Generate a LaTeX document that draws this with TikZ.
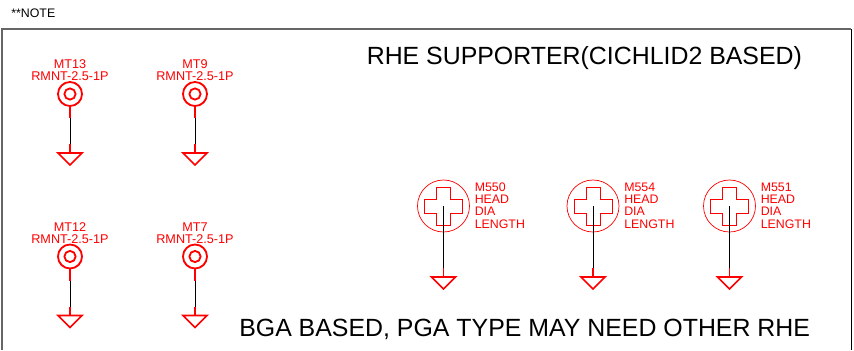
\documentclass[tikz,border=0pt]{standalone}
\usepackage{fontspec}
\setmainfont{Liberation Sans}
\begin{document}
\begin{tikzpicture}[x=0.025cm,y=-0.025cm,
  note/.style={font=\fontsize{8.8pt}{9pt}\selectfont,anchor=west,inner sep=0pt},
  heading/.style={font=\fontsize{17.7pt}{20pt}\selectfont,anchor=west,inner sep=0pt},
  reflabel/.style={red,font=\fontsize{9pt}{8.6pt}\selectfont,align=center,anchor=south,inner sep=0pt},
  headlabel/.style={red,font=\fontsize{8.8pt}{8.8pt}\selectfont,align=left,anchor=west,inner sep=0pt},
  holeouter/.style={circle,draw=red,line width=1.3pt,minimum size=0.6cm,inner sep=0pt},
  holeinner/.style={circle,draw=red,line width=1.3pt,minimum size=0.28cm,inner sep=0pt},
  screwhead/.style={circle,draw=red,line width=0.5pt,minimum size=1.3cm,inner sep=0pt},
  stub/.style={red,line width=1.2pt},
  wire/.style={black,line width=0.6pt}]
\useasboundingbox (0,0) rectangle (854,350);

% Frame, open at the bottom
\draw[black!60,line width=0.9pt] (2,350) -- (2,29) -- (851,29);
\draw[black,line width=0.5pt] (851,29) -- (851,350);

% Texts
\node[note] (notetext) at (11,13.5) {**NOTE};
\node[heading] (titletext) at (366.5,58.5) {RHE SUPPORTER(CICHLID2 BASED)};
\node[heading] (bgatext) at (239,329.5) {BGA BASED, PGA TYPE MAY NEED OTHER RHE};

% Mounting holes
\foreach \hole/\px/\py in {MT13/70/94,MT9/195/94,MT12/70/256.5,MT7/195/256.5} {
  \node[holeouter] (\hole) at (\px,\py) {};
  \node[holeinner] (\hole-in) at (\px,\py) {};
  \node[reflabel] (\hole-text) at (\px,\py-13) {\hole\\RMNT-2.5-1P};
  \coordinate (\hole-a) at (\px,\py+24);
  \coordinate (\hole-b) at (\px,\py+50);
  \coordinate (\hole-g) at (\px,\py+59);
  \draw[stub] (\hole) -- (\hole-a);
  \draw[wire] (\hole-a) -- (\hole-b);
  \draw[stub] (\hole-b) -- (\hole-g);
  \draw[stub,line join=miter] (\hole-g) ++(-12,0) -- ++(24,0) -- ++(-12,12) -- cycle;
}

% Screw heads
\foreach \screw/\px in {M550/443.5,M554/593,M551/729.5} {
  \node[screwhead] (\screw) at (\px,206) {};
  \node[headlabel] (\screw-text) at (\px+31,205.5) {\screw\\HEAD\\DIA\\LENGTH};
  \draw[red,line width=0.5pt] (\px-7,187) -- (\px+7,187) -- (\px+7,199) -- (\px+19,199)
    -- (\px+19,213) -- (\px+7,213) -- (\px+7,225) -- (\px-7,225) -- (\px-7,213)
    -- (\px-19,213) -- (\px-19,199) -- (\px-7,199) -- cycle;
  \coordinate (\screw-a) at (\px,268);
  \coordinate (\screw-g) at (\px,277);
  \draw[wire] (\screw.center) -- (\screw-a);
  \draw[stub] (\screw-a) -- (\screw-g);
  \draw[stub,line join=miter] (\screw-g) ++(-12,0) -- ++(24,0) -- ++(-12,12) -- cycle;
}
\end{tikzpicture}
\end{document}
